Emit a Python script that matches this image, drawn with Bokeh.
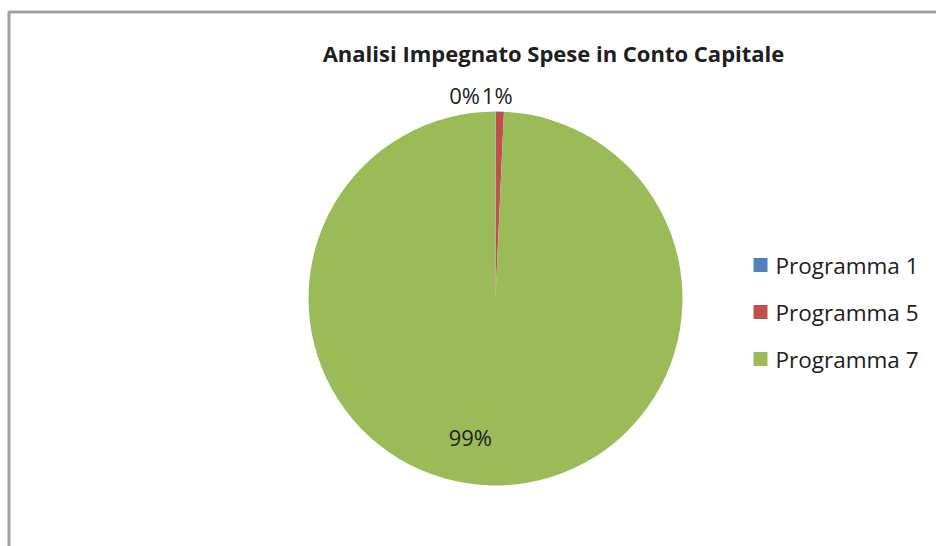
import math
from bokeh.plotting import figure
from bokeh.models import Range1d, ColumnDataSource
from bokeh.core.properties import value
from bokeh.embed import file_html
from bokeh.resources import INLINE

# ---- data ----
categories = ["Programma 1", "Programma 5", "Programma 7"]
values = [0.02, 0.70, 99.28]
colors = ["#4F81BD", "#C0504D", "#9BBB59"]
title_text = "Analisi Impegnato Spese in Conto Capitale"

# ---- layout / style ----
W, H = 936, 546
CX, CY, R = 495, 547 - 299, 187
FONT = "Open Sans"
TXT = "#202020"
label_radius = [1.09, 1.09, 0.75]
label_dx = [-31, -3, -22]
label_dy = [0, 0, 2]

p = figure(width=W, height=H, output_backend="svg", toolbar_location=None,
           x_range=Range1d(0, W), y_range=Range1d(0, H), min_border=0)
p.axis.visible = False
p.grid.visible = False
p.outline_line_color = None
p.background_fill_color = "white"
p.border_fill_color = "white"

# chart frame (partially visible)
p.line(x=[8.5, 8.5, W + 20], y=[-20, H - 11.5, H - 11.5], line_color="#A0A0A0", line_width=3)

total = sum(values)
starts, ends, lx, ly, labels = [], [], [], [], []
cum = 0.0
for i, v in enumerate(values):
    a0 = math.pi / 2 - 2 * math.pi * cum / total
    cum += v
    a1 = math.pi / 2 - 2 * math.pi * cum / total
    starts.append(a0)
    ends.append(a1)
    mid = (a0 + a1) / 2
    lx.append(CX + label_radius[i] * R * math.cos(mid) + label_dx[i])
    ly.append(CY + label_radius[i] * R * math.sin(mid) + label_dy[i])
    labels.append(f"{round(v / total * 100)}%")

src = ColumnDataSource(dict(start=starts, end=ends, color=colors, cat=categories))
p.wedge(x=CX, y=CY, radius=R, start_angle="start", end_angle="end",
        direction="clock", fill_color="color", line_color=None, source=src)

p.text(x=lx, y=ly, text=labels, text_font=value(FONT), text_font_size="22px",
       text_color=TXT, text_align="center", text_baseline="middle")

# title
p.text(x=[553], y=[H - 52], text=[title_text], text_font=value(FONT),
       text_font_size="22px", text_font_style="bold", text_color=TXT,
       text_align="center", text_baseline="middle")

# legend
LEG_X, LEG_Y0, LEG_STEP = 760, H - 264.5, 47
ys = [LEG_Y0 - i * LEG_STEP for i in range(len(categories))]
p.rect(x=[LEG_X] * len(categories), y=ys, width=14, height=14,
       fill_color=colors, line_color=None)
p.text(x=[LEG_X + 15] * len(categories), y=ys, text=categories,
       text_font=value(FONT), text_font_size="22.5px", text_color=TXT,
       text_align="left", text_baseline="middle")

open("out.html", "w").write(file_html(p, INLINE))
